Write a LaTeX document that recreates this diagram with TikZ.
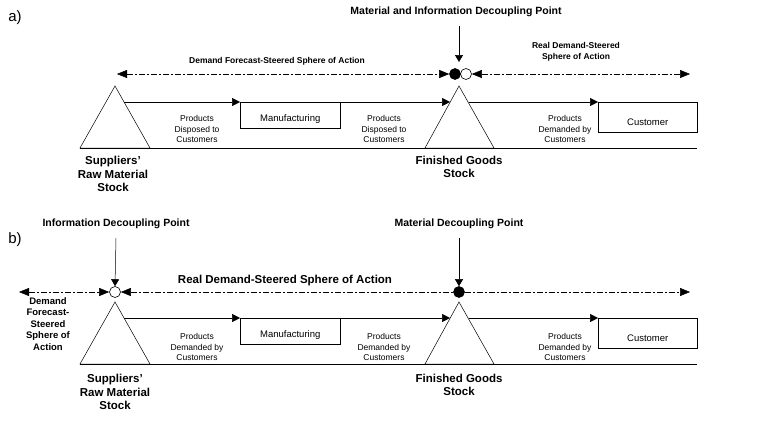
\documentclass[tikz,border=0pt]{standalone}
\usepackage{fontspec}
\setmainfont{Liberation Sans}
\usepackage{tikz}
\usetikzlibrary{calc,arrows.meta}
\tikzstyle{tsSmall} = [
    text=black,
    font=\fontsize{8.5}{10.5}\selectfont,
    align=center
]
\tikzstyle{tsBold} = [
    text=black,
    font=\fontsize{11.5}{13.5}\selectfont\bfseries,
    align=center
]
\tikzstyle{tsLabelBold} = [
    text=black,
    font=\fontsize{8.5}{10.5}\selectfont\bfseries,
    align=center
]
\tikzstyle{tsBox} = [
    rectangle,
    draw=black,
    line width=0.5pt,
    anchor=north west,
    inner sep=0pt,
    tsSmall,
    font=\fontsize{9.5}{11}\selectfont
]
\tikzstyle{tsFlow} = [
    -{Triangle[length=8pt,width=8pt]},
    line width=0.5pt
]
\tikzstyle{tsSphere} = [
    {Triangle[length=10pt,width=8pt]}-{Triangle[length=10pt,width=8pt]},
    line width=0.5pt,
    dash pattern=on 6pt off 2pt on 2pt off 2pt
]
\tikzstyle{tsDot} = [
    circle, draw=black, line width=0.6pt,
    minimum size=11pt, inner sep=0pt
]
\begin{document}
\begin{tikzpicture}[x=1pt, y=-1pt]

    \useasboundingbox (0,0) rectangle (769,423);

    % ---- a) ----
    \node[font=\fontsize{15}{17}\selectfont] (la) at ( 15, 18 ) {a)};

    \coordinate (tA1) at (115, 86);
    \coordinate (tA2) at (459, 86);
    \draw[line width=0.5pt] (tA1) -- (80,148) -- (150,148) -- cycle;
    \draw[line width=0.5pt] (tA2) -- (425,148) -- (494,148) -- cycle;
    \draw[line width=0.5pt] (80,148) -- (697,148);

    \node[tsBox, minimum width=100pt, minimum height=26pt, text height=15pt] (manA) at (240,102) {Manufacturing};
    \node[tsBox, minimum width=99pt, minimum height=30pt, text height=16pt] (custA) at (598,102) {Customer};

    \coordinate (sA1) at (124,102);
    \coordinate (eA2) at (450,102);
    \coordinate (sA3) at (469,102);
    \draw[tsFlow] (sA1) -- (manA.north west);
    \draw[tsFlow] (manA.north east) -- (eA2);
    \draw[tsFlow] (sA3) -- (custA.north west);

    \node[tsSmall] at ( 197, 129 ) {Products\\Disposed to\\Customers};
    \node[tsSmall] at ( 384, 129 ) {Products\\Disposed to\\Customers};
    \node[tsSmall] at ( 565, 129 ) {Products\\Demanded by\\Customers};

    \node[tsBold] at ( 113, 174 ) {Suppliers'\\Raw Material\\Stock};
    \node[tsBold] at ( 459, 167 ) {Finished Goods\\Stock};

    \node[tsBold, font=\fontsize{10.5}{12}\selectfont\bfseries] (titA) at ( 456, 12 ) {Material and Information Decoupling Point};
    \node[tsDot, fill=black] (matA) at (455, 74) {};
    \node[tsDot] (infA) at (466, 74) {};
    \draw[-{Triangle[length=7pt,width=8pt]}, line width=0.5pt] (titA.south -| 459,0) ++(0,6) -- (459,62);

    \coordinate (fcL) at (117,74);
    \coordinate (rdR) at (690,74);
    \draw[tsSphere] (fcL) -- (matA.west);
    \draw[tsSphere] (infA.east) -- (rdR);
    \node[tsLabelBold] at ( 277, 61 ) {Demand Forecast-Steered Sphere of Action};
    \node[tsLabelBold] at ( 576, 52 ) {Real Demand-Steered\\Sphere of Action};

    % ---- b) ----
    \node[font=\fontsize{15}{17}\selectfont] (lb) at ( 15, 240 ) {b)};

    \coordinate (tB1) at (115, 302);
    \coordinate (tB2) at (459, 302);
    \draw[line width=0.5pt] (tB1) -- (80,364) -- (150,364) -- cycle;
    \draw[line width=0.5pt] (tB2) -- (425,364) -- (494,364) -- cycle;
    \draw[line width=0.5pt] (80,364) -- (697,364);

    \node[tsBox, minimum width=100pt, minimum height=26pt, text height=15pt] (manB) at (240,318) {Manufacturing};
    \node[tsBox, minimum width=99pt, minimum height=30pt, text height=16pt] (custB) at (598,318) {Customer};

    \coordinate (sB1) at (124,318);
    \coordinate (eB2) at (450,318);
    \coordinate (sB3) at (469,318);
    \draw[tsFlow] (sB1) -- (manB.north west);
    \draw[tsFlow] (manB.north east) -- (eB2);
    \draw[tsFlow] (sB3) -- (custB.north west);

    \node[tsSmall] at ( 197, 347 ) {Products\\Demanded by\\Customers};
    \node[tsSmall] at ( 384, 347 ) {Products\\Demanded by\\Customers};
    \node[tsSmall] at ( 565, 347 ) {Products\\Demanded by\\Customers};

    \node[tsBold] at ( 115, 392 ) {Suppliers'\\Raw Material\\Stock};
    \node[tsBold] at ( 459, 385 ) {Finished Goods\\Stock};

    \node[tsBold, font=\fontsize{10.5}{12}\selectfont\bfseries] (titIB) at ( 116, 224 ) {Information Decoupling Point};
    \node[tsBold, font=\fontsize{10.5}{12}\selectfont\bfseries] (titMB) at ( 459, 224 ) {Material Decoupling Point};
    \node[tsDot] (infB) at (115, 292) {};
    \node[tsDot, fill=black] (matB) at (459, 292) {};
    \draw[-{Triangle[length=7pt,width=8pt]}, line width=0.5pt] (titIB.south) ++(0,6) -- (infB.north);
    \draw[-{Triangle[length=7pt,width=8pt]}, line width=0.5pt] (titMB.south) ++(0,6) -- (matB.north);

    \coordinate (fcBL) at (19,292);
    \coordinate (rdBR) at (690,292);
    \draw[tsSphere] (fcBL) -- (infB.west);
    \draw[{Triangle[length=10pt,width=8pt]}-, line width=0.5pt,
          dash pattern=on 6pt off 2pt on 2pt off 2pt] (infB.east) -- (matB.west);
    \draw[-{Triangle[length=10pt,width=8pt]}, line width=0.5pt,
          dash pattern=on 6pt off 2pt on 2pt off 2pt] (matB.east) -- (rdBR);
    \node[tsLabelBold, font=\fontsize{9.5}{11.5}\selectfont\bfseries] at ( 48, 324 ) {Demand\\Forecast-\\Steered\\Sphere of\\Action};
    \node[tsBold, font=\fontsize{11.5}{13}\selectfont\bfseries] at ( 285, 281 ) {Real Demand-Steered Sphere of Action};

\end{tikzpicture}
\end{document}
